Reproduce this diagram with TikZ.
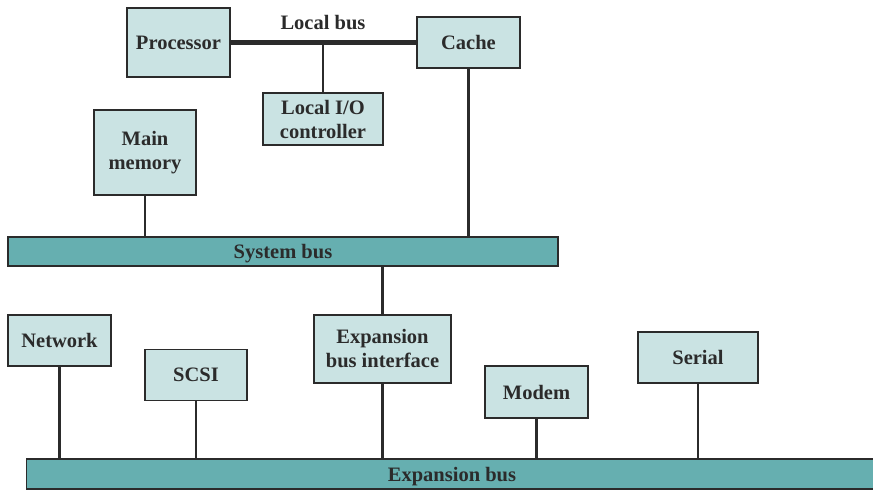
\documentclass[tikz,border=0pt]{standalone}
\usepackage{fontspec}
\setmainfont{Liberation Serif}
\definecolor{boxfill}{HTML}{CAE3E3}
\definecolor{busfill}{HTML}{66AFB0}
\definecolor{edge}{HTML}{2B2B2B}
\begin{document}
\begin{tikzpicture}[x=1pt,y=-1pt,
  txt/.style={font=\fontsize{20.5}{24}\selectfont\bfseries, text=edge, align=center},
  box/.style={txt, draw=edge, line width=1.3pt, fill=boxfill, inner sep=0pt},
  bus/.style={draw=edge, line width=1.3pt, fill=busfill, inner sep=0pt},
  link/.style={draw=edge, line width=2.3pt},
  lbus/.style={draw=edge, line width=4.5pt}]
\useasboundingbox (0,0) rectangle (873,490);
% buses
\node[bus, minimum width=550pt, minimum height=29pt] (sysbus) at (283,251.5) {};
\node[txt] (syslabel) at (283,254) {System bus};
\node[bus, minimum width=852pt, minimum height=30pt, anchor=west] (expbus) at (26,474) {};
\node[txt] (explabel) at (452,477) {Expansion bus};
% top boxes
\node[box, minimum width=103pt, minimum height=69pt] (proc) at (178.5,42.5) {Processor};
\node[box, minimum width=103pt, minimum height=51pt] (cache) at (468.5,42.5) {Cache};
\node[box, minimum width=120pt, minimum height=52pt] (lio) at (323,119) {Local I/O\\controller};
\node[box, minimum width=102pt, minimum height=85pt] (mem) at (145,152.5) {Main\\memory};
\node[txt] (lbuslabel) at (323,23) {Local bus};
% bottom boxes
\node[box, minimum width=103pt, minimum height=51pt] (net) at (59.5,340.5) {Network};
\node[box, minimum width=102pt, minimum height=51pt] (scsi) at (196,375) {SCSI};
\node[box, minimum width=137pt, minimum height=68pt] (ebi) at (382.5,349) {Expansion\\bus interface};
\node[box, minimum width=103pt, minimum height=52pt] (modem) at (536.5,392) {Modem};
\node[box, minimum width=120pt, minimum height=51pt] (serial) at (698,357.5) {Serial};
% connectors
\draw[lbus] (proc.east) -- (cache.west);
\draw[link] (lio.north) -- (lio.north |- proc.east);
\draw[link] (cache.south) -- (cache.south |- sysbus.north);
\draw[link] (mem.south) -- (mem.south |- sysbus.north);
\draw[link] (ebi.north) -- (ebi.north |- sysbus.south);
\draw[link] (net.south) -- (net.south |- expbus.north);
\draw[link] (scsi.south) -- (scsi.south |- expbus.north);
\draw[link] (ebi.south) -- (ebi.south |- expbus.north);
\draw[link] (modem.south) -- (modem.south |- expbus.north);
\draw[link] (serial.south) -- (serial.south |- expbus.north);
\end{tikzpicture}
\end{document}
